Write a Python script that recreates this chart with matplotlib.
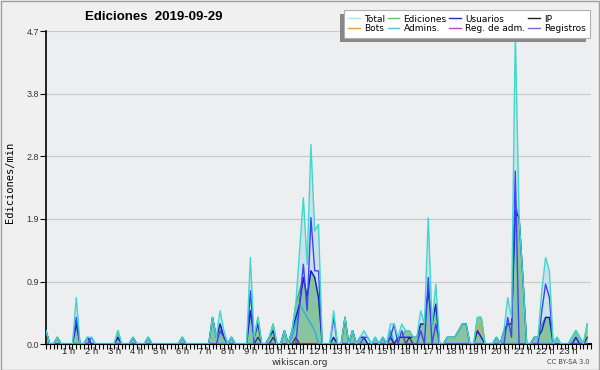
import numpy as np
import matplotlib
matplotlib.use("Agg")
import matplotlib.pyplot as plt
from matplotlib.patches import Rectangle
from matplotlib.lines import Line2D
from matplotlib.transforms import IdentityTransform

# edits per 10-minute slot, 144 slots (00:00 .. 23:50)
total = [2,0,0,1,0,0,0,0,7,0,0,1,1,0,0,0,0,0,0,2,0,0,0,1,
         0,0,0,1,0,0,0,0,0,0,0,0,1,0,0,0,0,0,0,0,4,1,5,2,
         0,1,0,0,0,0,13,1,4,0,0,1,3,0,0,2,0,2,6,14,22,12,30,17,
         18,0,0,0,5,0,0,4,0,2,0,1,2,1,0,1,0,1,0,3,3,1,3,2,
         2,1,1,5,3,19,3,9,0,0,1,1,1,2,3,3,0,0,4,4,0,0,0,1,
         0,2,7,4,47,19,10,0,0,1,1,8,13,11,0,1,0,0,0,1,2,1,0,3]
ediciones = [2,0,0,1,0,0,0,0,3,0,0,1,0,0,0,0,0,0,0,2,0,0,0,1,
             0,0,0,1,0,0,0,0,0,0,0,0,1,0,0,0,0,0,0,0,4,1,3,1,
             0,1,0,0,0,0,5,1,4,0,0,1,3,0,0,2,0,2,6,8,10,7,11,10,
             7,0,0,0,1,0,0,4,0,2,0,1,1,0,0,1,0,1,0,2,0,1,1,2,
             2,1,1,3,3,8,3,6,0,0,1,1,1,2,3,3,0,0,4,4,0,0,0,1,
             0,2,3,3,21,19,10,0,0,1,1,3,4,4,0,1,0,0,0,1,2,1,0,3]
usuarios = [2,0,0,0,0,0,0,0,3,0,0,1,0,0,0,0,0,0,0,1,0,0,0,1,
            0,0,0,1,0,0,0,0,0,0,0,0,1,0,0,0,0,0,0,0,4,1,3,1,
            0,1,0,0,0,0,5,1,3,0,0,1,2,0,0,2,0,2,4,6,10,7,11,10,
            7,0,0,0,1,0,0,0,0,2,0,1,1,0,0,0,0,1,0,1,0,1,1,1,
            1,1,1,3,3,8,3,6,0,0,1,1,1,2,3,3,0,0,2,1,0,0,0,1,
            0,2,3,3,20,19,10,0,0,1,1,2,4,4,0,0,0,0,0,0,1,0,0,0]
ip = [0,0,0,1,0,0,0,0,0,0,0,0,0,0,0,0,0,0,0,1,0,0,0,0,
      0,0,0,0,0,0,0,0,0,0,0,0,0,0,0,0,0,0,0,0,0,0,0,0,
      0,0,0,0,0,0,0,0,1,0,0,0,1,0,0,0,0,0,1,0,0,0,0,0,
      0,0,0,0,0,0,0,4,0,0,0,0,0,0,0,0,0,0,0,0,0,0,0,0,
      1,0,0,0,0,0,0,0,0,0,0,0,0,0,0,0,0,0,0,0,0,0,0,0,
      0,0,0,0,0,0,0,0,0,0,0,0,0,0,0,0,0,0,0,0,0,0,0,1]
bots = [0,0,0,0,0,0,0,0,0,0,0,0,0,0,0,0,0,0,0,0,0,0,0,0,
        0,0,0,0,0,0,0,0,0,0,0,0,0,0,0,0,0,0,0,0,0,0,0,0,
        0,0,0,0,0,0,0,0,0,0,0,0,0,0,0,0,0,0,1,0,0,0,0,0,
        0,0,0,0,0,0,0,0,0,0,0,0,0,0,0,0,0,0,0,0,0,0,0,1,
        1,0,0,0,0,0,0,0,0,0,0,0,0,0,0,0,0,0,2,3,0,0,0,0,
        0,0,0,0,0,0,0,0,0,0,0,0,0,0,0,0,0,0,0,0,0,0,0,0]
admins = [0,0,0,0,0,0,0,0,0,0,0,0,0,0,0,0,0,0,0,0,0,0,0,0,
          0,0,0,0,0,0,0,0,0,0,0,0,0,0,0,0,0,0,0,0,0,0,0,0,
          0,0,0,0,0,0,0,0,0,0,0,0,0,0,0,2,0,1,3,6,5,4,3,2,
          0,0,0,0,0,0,0,0,0,2,0,0,0,0,0,1,0,0,0,2,0,0,0,0,
          0,0,0,0,0,0,0,0,0,0,0,0,0,0,0,0,0,0,0,0,0,0,0,0,
          0,0,0,0,0,0,0,0,0,0,0,0,0,0,0,1,0,0,0,1,2,1,0,0]
reg_adm = [0] * 144
registros = [0,0,0,0,0,0,0,0,4,0,0,0,1,0,0,0,0,0,0,0,0,0,0,0,
             0,0,0,0,0,0,0,0,0,0,0,0,0,0,0,0,0,0,0,0,0,0,2,1,
             0,0,0,0,0,0,8,0,0,0,0,0,0,0,0,0,0,0,0,6,12,5,19,11,
             11,0,0,0,4,0,0,0,0,0,0,0,1,1,0,0,0,0,0,1,3,0,2,0,
             0,0,0,2,0,10,0,3,0,0,0,0,0,0,0,0,0,0,0,0,0,0,0,0,
             0,0,4,1,26,0,0,0,0,0,0,5,9,7,0,0,0,0,0,0,0,0,0,0]

hour_labels = ["%d h" % h for h in range(1, 24)]
y_max = 4.7

def per_min(a):
    return np.asarray(a, dtype=float) / 10.0

hours = np.arange(len(total)) / 6.0

W, H = 600, 370
fig = plt.figure(figsize=(W / 100, H / 100), dpi=100, facecolor="#f0f0f0")
ax = fig.add_axes([46 / W, (H - 344) / H, (591 - 46) / W, (344 - 31.5) / H])
ax.set_facecolor("#eceef0")

T = per_min(total)
E = per_min(ediciones)
ax.fill_between(hours, 0, T, color="#b6dbe6", alpha=0.6, lw=0, zorder=1)
ax.fill_between(hours, 0, E, color="#7dbf93", alpha=0.85, lw=0, zorder=2)

lw = 1.0
ax.plot(hours, E, color="#3cb84a", lw=lw, zorder=3)
ax.plot(hours, per_min(bots), color="#ff9900", lw=lw, zorder=4)
ax.plot(hours, per_min(ip), color="#3a3a3a", lw=lw, zorder=4)
ax.plot(hours, per_min(reg_adm), color="#e030e0", lw=lw, zorder=4)
ax.plot(hours, per_min(admins), color="#22b4e0", lw=lw, zorder=5)
ax.plot(hours, per_min(usuarios), color="#1a1ad0", lw=lw, zorder=6)
ax.plot(hours, per_min(registros), color="#4040ff", lw=lw, zorder=6)
ax.plot(hours, T, color="#40d8cc", lw=lw, zorder=7)

ax.set_xlim(0, 24)
ax.set_ylim(0, y_max)
yt = np.linspace(0, y_max, 6)
ax.set_yticks(yt)
ax.set_yticklabels(["%.1f" % v for v in yt])
ax.yaxis.grid(True, color="#c8c8c8", lw=0.8)
ax.set_axisbelow(True)

ax.set_xticks(np.arange(1, 24))
ax.set_xticklabels(hour_labels, family="Liberation Sans")
ax.set_xticks(np.arange(0, 24.01, 1 / 6.0), minor=True)
ax.tick_params(axis="x", which="both", direction="out", length=3.5, width=0.8,
               labelsize=6.8, pad=-1.5, colors="black")
ax.tick_params(axis="x", which="major", labelcolor="#222222")
ax.tick_params(axis="y", direction="out", length=4, width=0.8, labelsize=6.4,
               pad=1, labelcolor="#333333")
for lab in ax.get_yticklabels():
    lab.set_family("Liberation Sans")
for s in ("top", "right"):
    ax.spines[s].set_visible(False)
ax.spines["left"].set_linewidth(1.2)
ax.spines["bottom"].set_linewidth(1.5)

fig.text(85 / W, 1 - 17 / H, "Ediciones  2019-09-29", fontsize=9.5,
         fontweight="bold", family="Liberation Sans", ha="left", va="center")
fig.text(10 / W, 188 / H, "Ediciones/min", rotation=90, fontsize=7.5,
         family="DejaVu Sans Mono", ha="center", va="center")
fig.text(300 / W, 1 - 362.5 / H, "wikiscan.org", fontsize=6.5, ha="center",
         va="center", color="#333333")
fig.text(590 / W, 1 - 362.5 / H, "CC BY-SA 3.0", fontsize=4.8, ha="right",
         va="center", color="#444444")

names = ["Total", "Bots", "Ediciones", "Admins.", "Usuarios", "Reg. de adm.",
         "IP", "Registros"]
cols = ["#a0ece4", "#ff9900", "#5cc85c", "#30d0e8", "#2020f0", "#e030e0",
        "#222222", "#6a6aff"]
handles = [Line2D([], [], color=c, lw=1.0) for c in cols]
leg = fig.legend(handles, names, ncol=4, loc="upper right",
                 bbox_to_anchor=(590 / W, 1 - 10 / H), fontsize=6.5,
                 frameon=True, fancybox=False, borderaxespad=0,
                 handlelength=1.3, handletextpad=0.45, columnspacing=0.3,
                 labelspacing=0.1, borderpad=0.5)
leg.get_frame().set_edgecolor("#b0b0b0")
leg.get_frame().set_linewidth(0.8)
leg.get_frame().set_facecolor("white")
leg.get_frame().set_alpha(1)
leg.set_zorder(6)

fig.canvas.draw()
bb = leg.get_window_extent(fig.canvas.get_renderer())
fig.patches.append(Rectangle((bb.x0 - 4, bb.y0 - 4), bb.width, bb.height,
                             transform=IdentityTransform(), facecolor="#888888",
                             edgecolor="none", zorder=5, figure=fig))
fig.patches.append(Rectangle((0.5 / W, 0.5 / H), 1 - 1.5 / W, 1 - 1.5 / H,
                             transform=fig.transFigure, fill=False,
                             edgecolor="#a0a0a0", lw=1, zorder=10, figure=fig))

fig.savefig("out.png", dpi=100, facecolor=fig.get_facecolor())
